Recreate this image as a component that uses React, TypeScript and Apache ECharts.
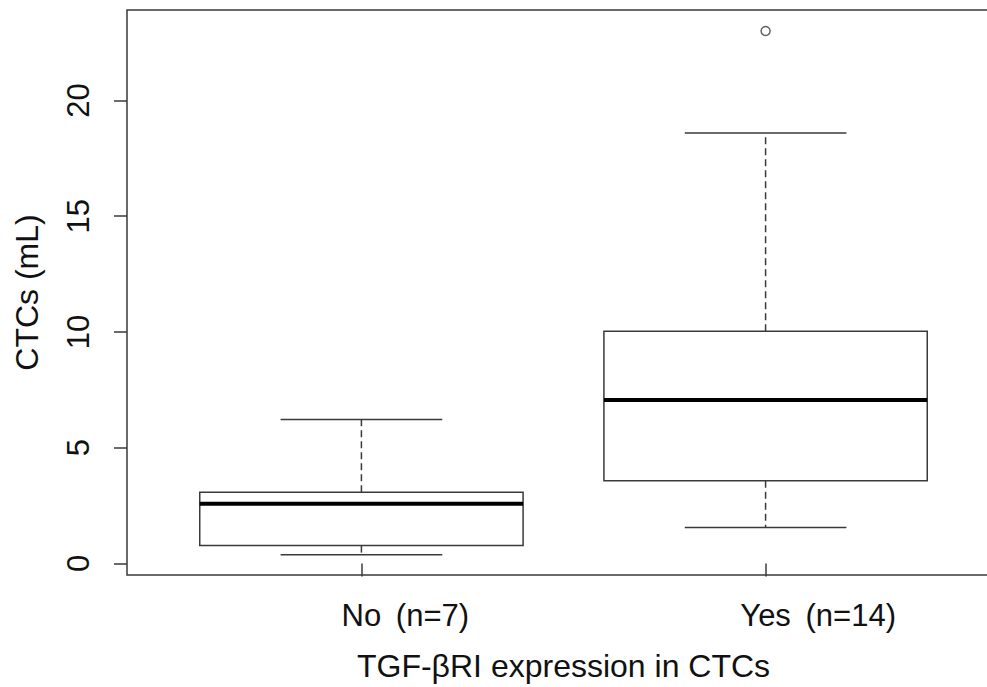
import React, { useEffect, useRef } from "react";
import * as echarts from "echarts";

const groupNames = ["No", "Yes"];
const groupCounts = ["(n=7)", "(n=14)"];
const positions = [1, 2];
const lowerWhisker = [0.37, 1.55];
const lowerQuartile = [0.77, 3.57];
const medians = [2.58, 7.06];
const upperQuartile = [3.07, 10.03];
const upperWhisker = [6.22, 18.6];
const outliers: number[][] = [[2, 23.0]];
const yTicks = [0, 5, 10, 15, 20];
const xTitle = "TGF-\u03b2RI expression in CTCs";
const yTitle = "CTCs (mL)";

const LINE = "#3a3a3a";
const FONT = "'Liberation Sans', Arial, sans-serif";
const LABEL_SIZE = 31;
const GAP = 6;

function measure(text: string): number {
  const c = document.createElement("canvas").getContext("2d");
  if (!c) return text.length * LABEL_SIZE * 0.55;
  c.font = `${LABEL_SIZE}px 'Liberation Sans', Arial, sans-serif`;
  return c.measureText(text).width;
}

export default function App() {
  const ref = useRef<HTMLDivElement>(null);
  useEffect(() => {
    if (!ref.current) return;
    const chart = echarts.init(ref.current, null, { renderer: "svg" });
    const boxData = positions.map((p, i) => [
      p,
      lowerWhisker[i],
      lowerQuartile[i],
      medians[i],
      upperQuartile[i],
      upperWhisker[i],
    ]);
    const rich: any = {};
    groupNames.forEach((n, i) => {
      const countW = measure(" " + groupCounts[i]) + GAP;
      rich["n" + i] = { fontSize: LABEL_SIZE, fontFamily: FONT, color: "#111111", padding: [0, 0, 0, countW] };
      rich["c" + i] = { fontSize: LABEL_SIZE, fontFamily: FONT, color: "#111111", padding: [0, 0, 0, GAP] };
    });
    const renderItem = (params: any, api: any) => {
      const x = api.value(0);
      const pLow = api.coord([x, api.value(1)]);
      const pQ1 = api.coord([x, api.value(2)]);
      const pMed = api.coord([x, api.value(3)]);
      const pQ3 = api.coord([x, api.value(4)]);
      const pHigh = api.coord([x, api.value(5)]);
      const half = api.size([0.4, 0])[0];
      const capHalf = api.size([0.2, 0])[0];
      const cx = pMed[0];
      const solid = { stroke: LINE, lineWidth: 1.5, fill: null };
      const dashed = { stroke: LINE, lineWidth: 1.5, lineDash: [7, 4], fill: null };
      return {
        type: "group",
        children: [
          { type: "line", shape: { x1: cx, y1: pQ3[1], x2: cx, y2: pHigh[1] }, style: dashed },
          { type: "line", shape: { x1: cx, y1: pQ1[1], x2: cx, y2: pLow[1] }, style: dashed },
          { type: "line", shape: { x1: cx - capHalf, y1: pHigh[1], x2: cx + capHalf, y2: pHigh[1] }, style: solid },
          { type: "line", shape: { x1: cx - capHalf, y1: pLow[1], x2: cx + capHalf, y2: pLow[1] }, style: solid },
          {
            type: "rect",
            shape: { x: cx - half, y: pQ3[1], width: 2 * half, height: pQ1[1] - pQ3[1] },
            style: { stroke: LINE, lineWidth: 1.5, fill: "#ffffff" },
          },
          {
            type: "line",
            shape: { x1: cx - half, y1: pMed[1], x2: cx + half, y2: pMed[1] },
            style: { stroke: "#000000", lineWidth: 4, fill: null },
          },
        ],
      };
    };
    chart.setOption({
      animation: false,
      backgroundColor: "#ffffff",
      grid: {
        left: 127,
        top: 10,
        width: 873,
        height: 568.5,
        show: true,
        borderColor: LINE,
        borderWidth: 1.5,
        backgroundColor: "transparent",
      },
      xAxis: {
        type: "value",
        min: 0.42,
        max: 2.58,
        axisLine: { show: false },
        splitLine: { show: false },
        axisTick: {
          show: true,
          length: 13,
          customValues: positions,
          lineStyle: { color: LINE, width: 1.5 },
        },
        axisLabel: {
          show: true,
          customValues: positions,
          margin: 25,
          fontSize: LABEL_SIZE,
          fontFamily: FONT,
          color: "#111111",
          rich,
          formatter: (v: number) => {
            const i = positions.indexOf(Math.round(v));
            if (i < 0) return "";
            return `{n${i}|${groupNames[i]}}{c${i}| ${groupCounts[i]}}`;
          },
        },
        name: xTitle,
        nameLocation: "middle",
        nameGap: 75,
        nameTextStyle: { fontSize: 32, fontFamily: FONT, color: "#111111" },
      },
      yAxis: {
        type: "value",
        min: -0.5,
        max: 23.91,
        axisLine: { show: false },
        splitLine: { show: false },
        axisTick: {
          show: true,
          length: 13,
          customValues: yTicks,
          lineStyle: { color: LINE, width: 1.5 },
        },
        axisLabel: {
          show: true,
          customValues: yTicks,
          rotate: 90,
          margin: 33,
          fontSize: LABEL_SIZE,
          fontFamily: FONT,
          color: "#111111",
        },
        name: yTitle,
        nameLocation: "middle",
        nameRotate: 90,
        nameGap: 84,
        nameTextStyle: { fontSize: 32, fontFamily: FONT, color: "#111111" },
      },
      series: [
        {
          type: "custom",
          renderItem,
          data: boxData,
          encode: { x: 0, y: [1, 2, 3, 4, 5] },
          silent: true,
        },
        {
          type: "scatter",
          data: outliers,
          symbol: "circle",
          symbolSize: 9,
          itemStyle: { color: "#ffffff", borderColor: LINE, borderWidth: 1.5 },
          silent: true,
        },
      ],
    });
    return () => chart.dispose();
  }, []);
  return (
    <div style={{ position: "fixed", left: 0, top: 0, width: 987, height: 687, overflow: "hidden", background: "#fff" }}>
      <div ref={ref} style={{ width: 1000, height: 687 }} />
    </div>
  );
}
